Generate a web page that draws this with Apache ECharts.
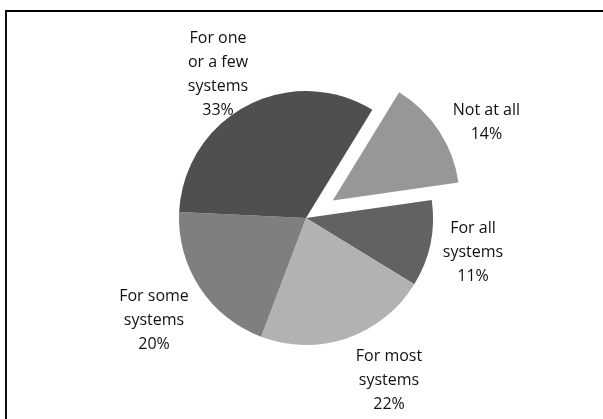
<!DOCTYPE html>
<html>
<head>
<meta charset="utf-8">
<script src="https://cdn.jsdelivr.net/npm/echarts@6/dist/echarts.min.js"></script>
<style>
  html, body { margin: 0; padding: 0; background: #fff; }
  #chart { width: 603px; height: 419px; }
</style>
</head>
<body>
<div id="chart"></div>
<script>
// slices, clockwise from the exploded one
const names = ['Not at all', 'For all\nsystems', 'For most\nsystems', 'For some\nsystems', 'For one\nor a few\nsystems'];
const values = [14, 11, 22, 20, 33];
const colors = ['#979797', '#626262', '#b2b2b2', '#7f7f7f', '#4f4f4f'];

// where the label blocks sit (centre of text block)
const labelPos = [[485, 111], [473, 252], [389, 380], [154, 320], [218, 74]];

const chart = echarts.init(document.getElementById('chart'));

chart.setOption({
    animation: false,
    graphic: [
        { type: 'line', shape: { x1: 6, y1: 11, x2: 603, y2: 11 }, style: { stroke: '#000', lineWidth: 2 } },
        { type: 'line', shape: { x1: 6, y1: 10, x2: 6, y2: 419 }, style: { stroke: '#111', lineWidth: 2 } }
    ],
    series: [{
        type: 'pie',
        center: [306, 218],
        radius: 127,
        startAngle: 58.5,
        selectedMode: 'single',
        selectedOffset: 32,
        emphasis: { disabled: true },
        label: {
            show: true,
            position: 'outside',
            fontFamily: 'Open Sans',
            fontSize: 16,
            lineHeight: 24,
            color: '#111',
            align: 'center',
            formatter: p => p.name + '\n' + p.value + '%'
        },
        labelLine: { show: false },
        labelLayout: p => ({
            x: labelPos[p.dataIndex][0],
            y: labelPos[p.dataIndex][1],
            align: 'center',
            verticalAlign: 'middle'
        }),
        data: names.map((n, i) => ({
            name: n,
            value: values[i],
            selected: i === 0,
            itemStyle: { color: colors[i] }
        }))
    }]
});
</script>
</body>
</html>
